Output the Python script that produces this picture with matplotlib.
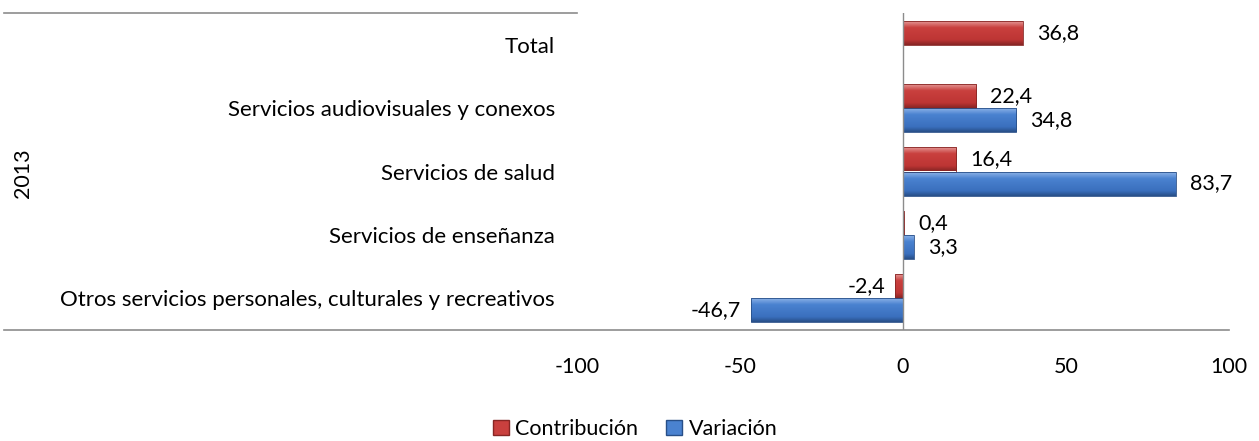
import numpy as np
import matplotlib
matplotlib.use('Agg')
import matplotlib.pyplot as plt
from matplotlib.lines import Line2D
from matplotlib.patches import Patch
from matplotlib.colors import LinearSegmentedColormap

plt.rcParams['font.family'] = ['Lato', 'DejaVu Sans']

categories = ['Total',
              'Servicios audiovisuales y conexos',
              'Servicios de salud',
              'Servicios de enseñanza',
              'Otros servicios personales, culturales y recreativos']
contribucion = [36.8, 22.4, 16.4, 0.4, -2.4]
variacion = [np.nan, 34.8, 83.7, 3.3, -46.7]
group_label = '2013'
xticks = [-100, -50, 0, 50, 100]

red = ['#e8a3a1', '#c9403e', '#bd3534', '#872624']
blue = ['#94b8ea', '#4a82d0', '#3a6fbd', '#284f88']
fs = 15.5


def fmt(v):
    return f'{v:.1f}'.replace('.', ',')


def shade_bars(ax, bars, colors):
    cmap = LinearSegmentedColormap.from_list('s', [(0, colors[0]), (0.3, colors[1]),
                                                   (0.8, colors[2]), (1, colors[3])])
    grad = np.linspace(0, 1, 64).reshape(-1, 1)
    for b in bars:
        if not np.isfinite(b.get_width()) or b.get_width() == 0:
            continue
        x0, y0, w, h = b.get_x(), b.get_y(), b.get_width(), b.get_height()
        im = ax.imshow(grad, cmap=cmap, aspect='auto', origin='upper',
                       extent=(x0, x0 + w, y0, y0 + h), zorder=3)
        im.set_clip_path(b)
        b.set_facecolor('none')
        b.set_edgecolor(colors[3])
        b.set_linewidth(0.6)


W, H = 1259, 441
left, right, top, bottom = 577, 1229, 13, 330

fig = plt.figure(figsize=(W / 100, H / 100), dpi=100)
ax = fig.add_axes([left / W, 1 - bottom / H, (right - left) / W, (bottom - top) / H])

y = np.arange(len(categories))[::-1]
h = 0.38
bars_c = ax.barh(y + h / 2, contribucion, height=h, zorder=4)
bars_v = ax.barh(y - h / 2, variacion, height=h, zorder=4)
shade_bars(ax, bars_c, red)
shade_bars(ax, bars_v, blue)

for bars, vals in ((bars_c, contribucion), (bars_v, variacion)):
    for b, v in zip(bars, vals):
        if not np.isfinite(v):
            continue
        yc = b.get_y() + b.get_height() / 2
        off = 14 if v >= 0 else -10
        ax.annotate(fmt(v), (v, yc), xytext=(off, 0), textcoords='offset pixels',
                    ha='left' if v >= 0 else 'right', va='center', fontsize=fs,
                    color='#000000')

ax.set_xlim(-100, 100)
ax.set_ylim(-0.5, len(categories) - 0.5)
ax.axvline(0, color='#8c8c8c', lw=1.0, zorder=5)
for s in ax.spines.values():
    s.set_visible(False)
ax.set_xticks(xticks)
ax.set_xticklabels([str(t) for t in xticks])
ax.set_yticks(y)
ax.set_yticklabels(categories)
ax.tick_params(axis='x', length=0, pad=19.5, labelsize=fs)
ax.tick_params(axis='y', length=0, pad=16, labelsize=16)

# category axis lines and group bracket
fig.add_artist(Line2D([4 / W, right / W], [1 - bottom / H] * 2, color='#8c8c8c', lw=1.2))
fig.add_artist(Line2D([4 / W, left / W], [1 - top / H] * 2, color='#8c8c8c', lw=1.2))
fig.text(23 / W, 1 - 173 / H, group_label, rotation=90, ha='center', va='center',
         fontsize=fs)

handles = [Patch(facecolor=red[1], edgecolor=red[3]), Patch(facecolor=blue[1], edgecolor=blue[3])]
fig.legend(handles, ['Contribución', 'Variación'], loc='center', ncol=2,
           bbox_to_anchor=(635 / W, 1 - 429 / H), frameon=False, fontsize=fs,
           handlelength=0.75, handleheight=0.75, handletextpad=0.3, columnspacing=1.3)

fig.savefig('out.png', dpi=100)
